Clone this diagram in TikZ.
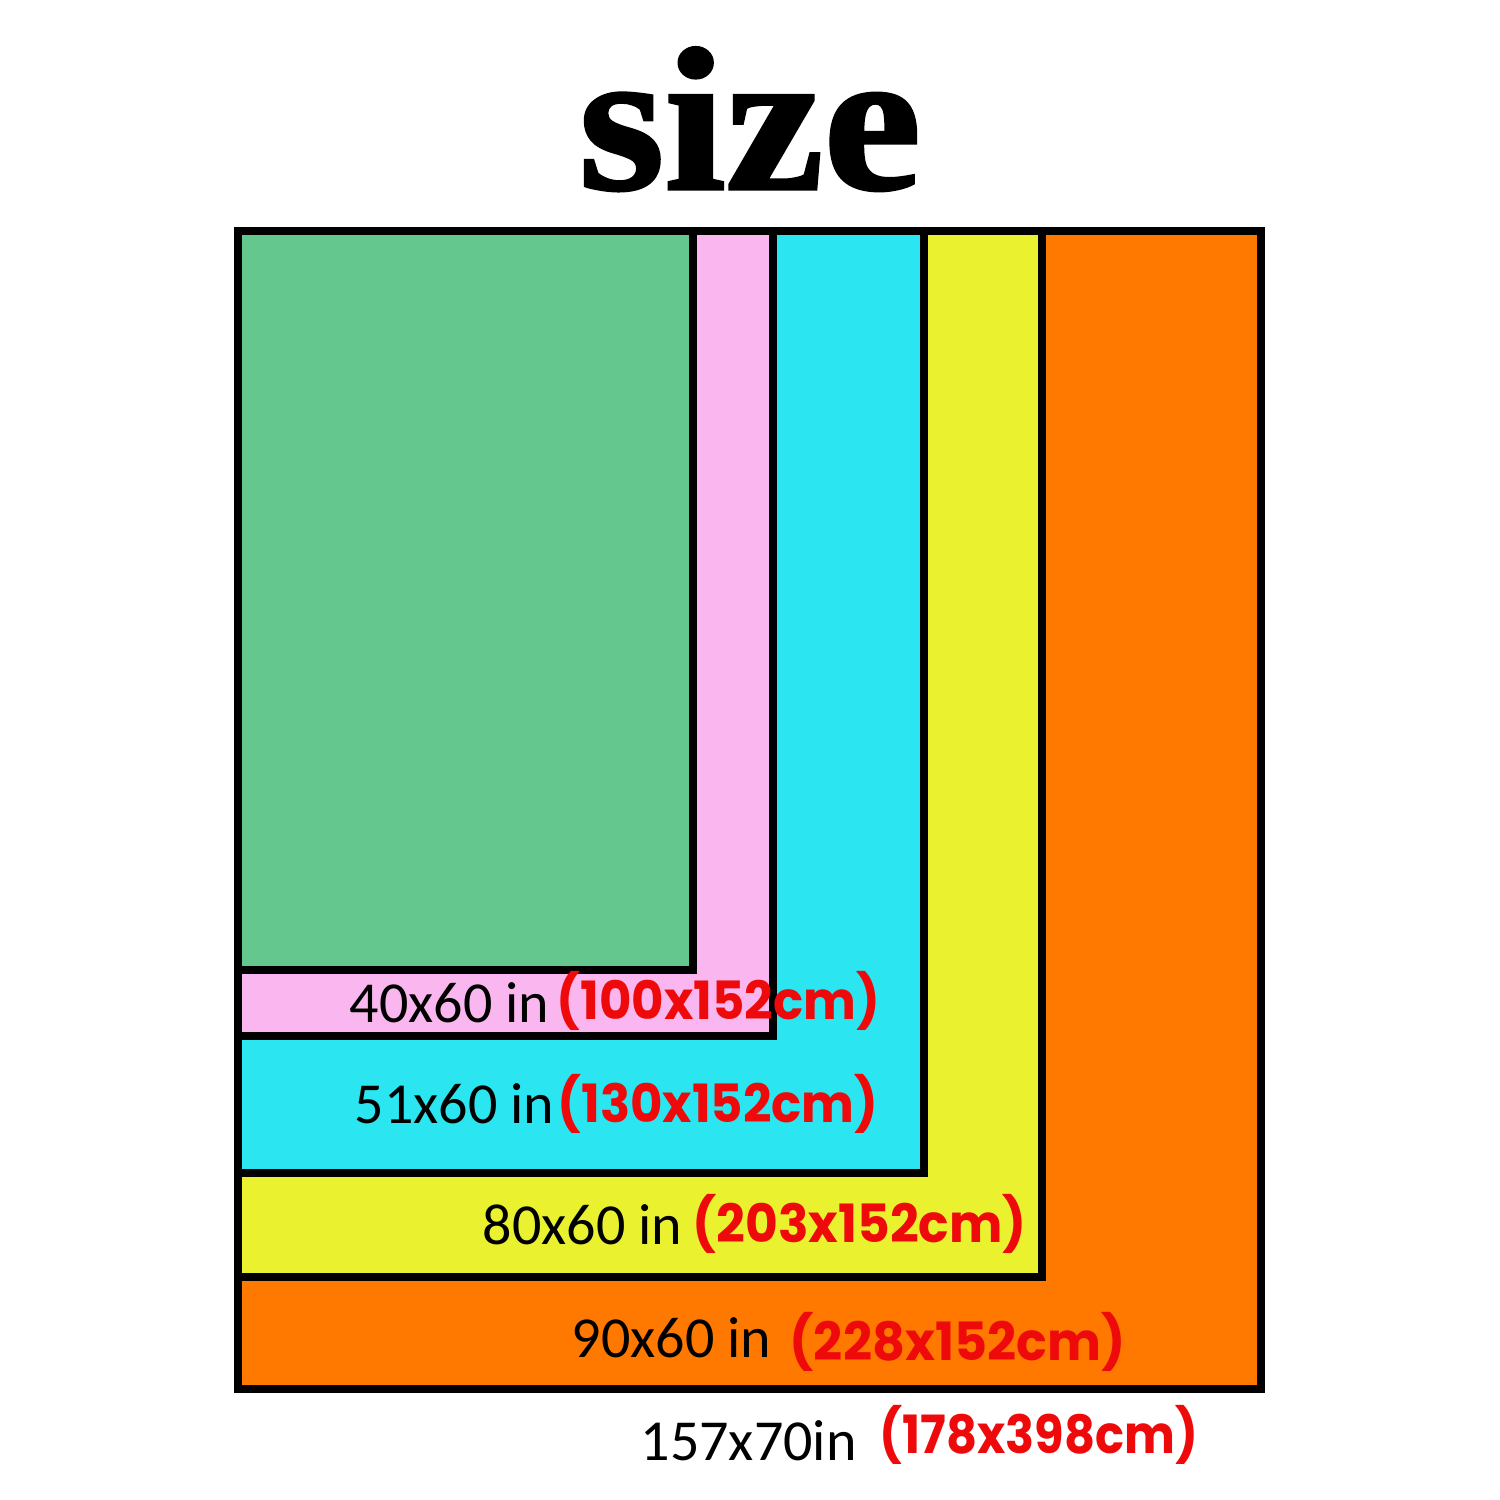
\documentclass[tikz,border=0pt]{standalone}
\usepackage{fontspec}
\setmainfont{Carlito}
\newfontfamily\titlefont[FakeBold=1.5]{Liberation Serif Bold}
\newfontfamily\redfont{Poppins Bold}
\newfontfamily\blackfont{Carlito}
\definecolor{cgreen}{HTML}{64C88E}
\definecolor{cpink}{HTML}{FAB6EE}
\definecolor{ccyan}{HTML}{2BE6F0}
\definecolor{cyellow}{HTML}{EAF230}
\definecolor{corange}{HTML}{FF7800}
\definecolor{cred}{HTML}{EE0A0A}
\newcommand{\redlabel}[2]{\scalebox{#1}[1]{#2}}
\begin{document}
\begin{tikzpicture}[x=0.01cm,y=-0.01cm,
  panel/.style={draw=black,line width=0.08cm,line join=miter},
  intext/.style={inner sep=0pt,anchor=base west,font=\blackfont\fontsize{16.5}{18}\selectfont,text=black},
  cmtext/.style={inner sep=0pt,anchor=base west,font=\redfont\fontsize{15}{18}\selectfont,text=cred}]
\useasboundingbox[fill=white] (0,0) rectangle (1500,1500);
% nested panels
\filldraw[panel,fill=corange] (238,231) rectangle (1261,1389);
\filldraw[panel,fill=cyellow] (238,231) rectangle (1042,1277);
\filldraw[panel,fill=ccyan] (238,231) rectangle (924,1173);
\filldraw[panel,fill=cpink] (238,231) rectangle (773,1036);
\filldraw[panel,fill=cgreen] (238,231) rectangle (693,970);
% title
\node[inner sep=0pt,anchor=base] (title) at (750,189) {\scalebox{1.08}[1]{\titlefont\fontsize{58}{60}\selectfont size}};
% labels
\node[intext] (in1) at (349,1022) {40x60 in};
\node[cmtext] (cm1) at (556,1019) {\redlabel{0.945}{(100x152cm)}};
\node[intext] (in2) at (354,1123) {51x60 in};
\node[cmtext] (cm2) at (557,1122) {\redlabel{0.945}{(130x152cm)}};
\node[intext] (in3) at (482,1244) {80x60 in};
\node[cmtext] (cm3) at (692,1242) {\redlabel{0.955}{(203x152cm)}};
\node[intext] (in4) at (571,1357) {90x60 in};
\node[cmtext] (cm4) at (789,1360) {\redlabel{0.965}{(228x152cm)}};
\node[intext] (in5) at (640,1460) {157x70in};
\node[cmtext] (cm5) at (879,1453) {\redlabel{0.91}{(178x398cm)}};
\end{tikzpicture}
\end{document}
